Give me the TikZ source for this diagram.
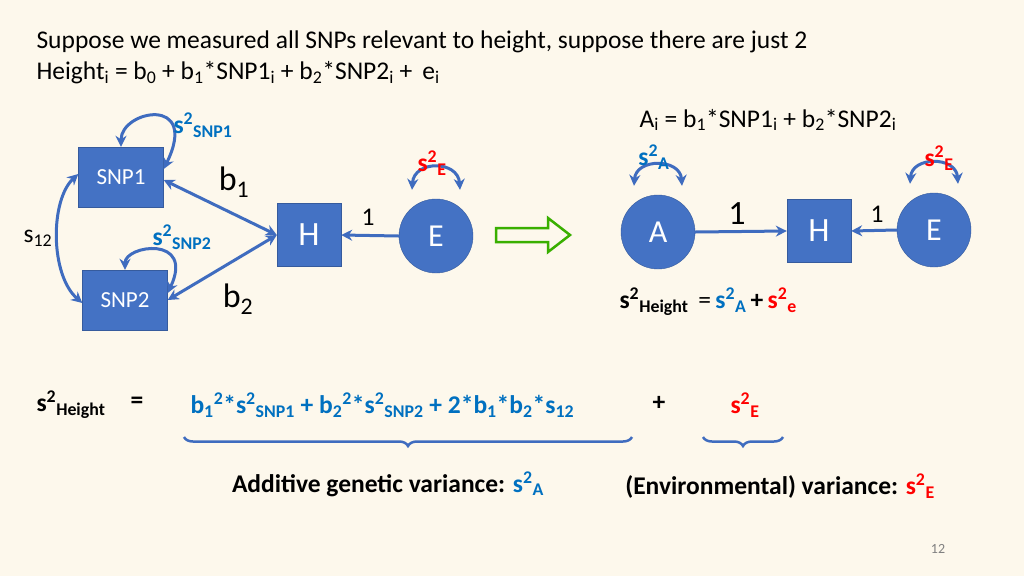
\documentclass[tikz,border=0pt]{standalone}
\usepackage{fontspec}
\setmainfont{Carlito}
\usetikzlibrary{arrows.meta,decorations.pathreplacing}
\definecolor{bg}{HTML}{FDF8EC}
\definecolor{nodeblue}{HTML}{4472C4}
\definecolor{edgeblue}{HTML}{3F6CBF}
\definecolor{txtblue}{HTML}{0070C0}
\definecolor{txtred}{HTML}{FF0000}
\newcommand{\sq}[2]{\textbf{s\textsuperscript{2}\textsubscript{#2}}}
\begin{document}
\begin{tikzpicture}[x=1pt,y=-1pt,
  box/.style={draw=nodeblue!80!black,fill=nodeblue,text=white,minimum width=#1,inner sep=0pt},
  circ/.style={circle,draw=nodeblue!80!black,fill=nodeblue,text=white,minimum size=74pt,inner sep=0pt,font=\fontsize{32}{34}\selectfont},
  conn/.style={edgeblue,line width=3pt,-{Stealth[length=11pt,width=11pt]}},
  dconn/.style={edgeblue,line width=3pt,{Stealth[length=11pt,width=11pt]}-{Stealth[length=11pt,width=11pt]}},
  lbl/.style={font=\fontsize{25.5}{30}\selectfont},
  snp/.style={font=\fontsize{23}{26}\selectfont},
  big/.style={font=\fontsize{34}{38}\selectfont}]
\fill[bg] (0,0) rectangle (1024,576);
\useasboundingbox (0,0) rectangle (1024,576);
\node[lbl,anchor=west] (t1) at (33,42) {Suppose we measured all SNPs relevant to height, suppose there are just 2};
\node[lbl,anchor=west] (t2) at (33,73) {Height\textsubscript{i} = b\textsubscript{0} + b\textsubscript{1}*SNP1\textsubscript{i} + b\textsubscript{2}*SNP2\textsubscript{i} +\, e\textsubscript{i}};
% left diagram
\node[box=85pt,minimum height=60pt,snp,text=white] (snp1) at (121,177) {SNP1};
\node[box=85pt,minimum height=60pt,snp,text=white] (snp2) at (125,300) {SNP2};
\node[box=64pt,minimum height=63pt,big,text=white] (h1) at (309,235) {H};
\node[circ] (e1) at (436,236) {E};
\draw[dconn] (snp1.north) .. controls (121,110) and (200,95) .. ([yshift=8pt]snp1.east);
\draw[dconn] (snp2.north) .. controls (125,245) and (195,235) .. ([yshift=7pt]snp2.east);
\draw[dconn] ([yshift=3pt]snp1.west) .. controls (50,200) and (50,275) .. ([yshift=-3pt]snp2.west);
\draw[dconn] ([yshift=-3pt]snp1.east) -- (h1.west);
\draw[dconn] (snp2.east) -- (h1.west);
\draw[conn] (e1.west) -- (h1.east);
\draw[dconn] ([xshift=-24pt,yshift=9pt]e1.north) .. controls (414,160) and (458,160) .. ([xshift=24pt,yshift=9pt]e1.north);
\node[txtblue,lbl] (ls1) at (203,125) {\sq{}{SNP1}};
\node[txtblue,lbl] (ls2) at (182,237) {\sq{}{SNP2}};
\node[lbl] (s12) at (38,238) {s\textsubscript{12}};
\node[big] (b1) at (234,182) {b\textsubscript{1}};
\node[big] (b2) at (238,299) {b\textsubscript{2}};
\node[lbl] (one1) at (368,217) {1};
\node[txtred,lbl] (lse1) at (432,163) {\sq{}{E}};
% green arrow
\draw[draw=green!55!black!70!lime,line width=2.5pt,fill=bg] (496,228)--(548,228)--(548,218)--(570,235)--(548,252)--(548,242)--(496,242)--cycle;
% right diagram
\node[lbl,anchor=west] (ai) at (636,120) {A\textsubscript{i} = b\textsubscript{1}*SNP1\textsubscript{i} + b\textsubscript{2}*SNP2\textsubscript{i}};
\node[circ] (a) at (658,232) {A};
\node[box=64pt,minimum height=63pt,big,text=white] (h2) at (819,231) {H};
\node[circ] (e2) at (934,230) {E};
\draw[conn] (a.east) -- (h2.west);
\draw[conn] (e2.west) -- (h2.east);
\draw[dconn] ([xshift=-24pt,yshift=9pt]a.north) .. controls (636,158) and (680,158) .. ([xshift=24pt,yshift=9pt]a.north);
\draw[dconn] ([xshift=-24pt,yshift=9pt]e2.north) .. controls (912,156) and (956,156) .. ([xshift=24pt,yshift=9pt]e2.north);
\node[txtblue,lbl] (lsa) at (654,157) {\sq{}{A}};
\node[txtred,lbl] (lse2) at (939,158) {\sq{}{E}};
\node[big] (one2) at (737,214) {1};
\node[lbl] (one3) at (877,214) {1};
\node[lbl,anchor=west] (eq1) at (616,302) {\textbf{s\textsuperscript{2}\textsubscript{Height}} \,=\,\textcolor{txtblue}{\textbf{s\textsuperscript{2}\textsubscript{A}}}\,\textbf{+}\,\textcolor{txtred}{\textbf{s\textsuperscript{2}\textsubscript{e}}}};
% bottom equation
\node[lbl,anchor=west] (sh) at (33,405) {\textbf{s\textsuperscript{2}\textsubscript{Height}}};
\node[lbl] (eqs) at (137,403) {\textbf{=}};
\node[lbl,anchor=west,txtblue] (form) at (187,405) {\textbf{b\textsubscript{1}\textsuperscript{2}*s\textsuperscript{2}\textsubscript{SNP1} + b\textsubscript{2}\textsuperscript{2}*s\textsuperscript{2}\textsubscript{SNP2} + 2*b\textsubscript{1}*b\textsubscript{2}*s\textsubscript{12}}};
\node[lbl] (plus) at (659,403) {\textbf{+}};
\node[lbl,txtred] (se) at (745,405) {\textbf{s\textsuperscript{2}\textsubscript{E}}};
\draw[decorate,decoration={brace,mirror,amplitude=9pt},edgeblue,line width=2.5pt] (184,437) -- (632,437);
\draw[decorate,decoration={brace,mirror,amplitude=9pt},edgeblue,line width=2.5pt] (703,437) -- (783,437);
\node[lbl] (add) at (388,484) {\textbf{Additive genetic variance: \textcolor{txtblue}{s\textsuperscript{2}\textsubscript{A}}}};
\node[lbl] (env) at (780,486) {\textbf{(Environmental) variance: \textcolor{txtred}{s\textsuperscript{2}\textsubscript{E}}}};
\node[gray,font=\fontsize{14}{16}\selectfont] (pg) at (938,549) {12};
\end{tikzpicture}
\end{document}
